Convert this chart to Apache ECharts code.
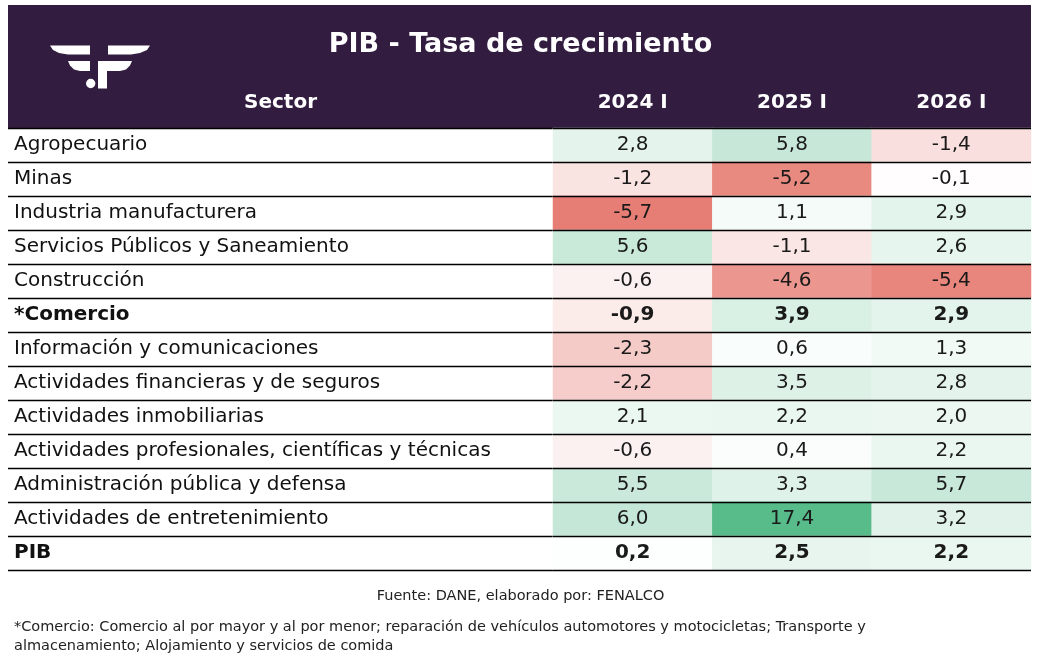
<!DOCTYPE html>
<html>
<head>
<meta charset="utf-8">
<script src="https://cdn.jsdelivr.net/npm/echarts@6/dist/echarts.min.js"></script>
<style>
html, body { margin: 0; padding: 0; background: #fff; }
#main { width: 1041px; height: 667px; }
</style>
</head>
<body>
<div id="main"></div>
<script>
var sectors = [
	'Agropecuario',
	'Minas',
	'Industria manufacturera',
	'Servicios Públicos y Saneamiento',
	'Construcción',
	'*Comercio',
	'Información y comunicaciones',
	'Actividades financieras y de seguros',
	'Actividades inmobiliarias',
	'Actividades profesionales, científicas y técnicas',
	'Administración pública y defensa',
	'Actividades de entretenimiento',
	'PIB'
];
var periods = ['2024 I', '2025 I', '2026 I'];
var v2024 = [2.8, -1.2, -5.7, 5.6, -0.6, -0.9, -2.3, -2.2, 2.1, -0.6, 5.5, 6.0, 0.2];
var v2025 = [5.8, -5.2, 1.1, -1.1, -4.6, 3.9, 0.6, 3.5, 2.2, 0.4, 3.3, 17.4, 2.5];
var v2026 = [-1.4, -0.1, 2.9, 2.6, -5.4, 2.9, 1.3, 2.8, 2.0, 2.2, 5.7, 3.2, 2.2];
var boldRows = ['*Comercio', 'PIB'];

var font = "'DejaVu Sans', sans-serif";
var myChart = echarts.init(document.getElementById('main'));

var cols = [v2024, v2025, v2026];
var cells = [];
for (var c = 0; c < cols.length; c++) {
	for (var r = 0; r < sectors.length; r++) {
		var bold = boldRows.indexOf(sectors[r]) >= 0;
		cells.push({
			value: [c, r, cols[c][r]],
			label: { fontWeight: bold ? 'bold' : 'normal' }
		});
	}
}

var splitStyle = { show: true, interval: 0, lineStyle: { color: '#000', width: 1.3 } };

var option = {
	backgroundColor: '#fff',
	textStyle: { fontFamily: font },
	title: [
		{
			text: 'PIB - Tasa de crecimiento',
			left: 'center',
			top: 26,
			textStyle: { color: '#fff', fontSize: 27, fontWeight: 'bold', fontFamily: font }
		},
		{
			text: 'Fuente: DANE, elaborado por: FENALCO',
			left: 'center',
			top: 584,
			textStyle: { color: '#222', fontSize: 14.5, fontWeight: 'normal', fontFamily: font }
		},
		{
			text: '*Comercio: Comercio al por mayor y al por menor; reparación de vehículos automotores y motocicletas; Transporte y\nalmacenamiento; Alojamiento y servicios de comida',
			left: 9,
			top: 613,
			textStyle: { color: '#222', fontSize: 14.5, fontWeight: 'normal', lineHeight: 19, fontFamily: font }
		}
	],
	graphic: [
		{ type: 'rect', z: -10, shape: { x: 8, y: 5, width: 1023, height: 123 }, style: { fill: '#321d40' } },
		{ type: 'polygon', z: 1, shape: { points: [[50, 45.5], [90, 45.5], [90, 54.5], [68, 54.5], [59, 53], [53, 50]] }, style: { fill: '#fff' } },
		{ type: 'polygon', z: 1, shape: { points: [[150, 45.5], [108, 45.5], [108, 54.5], [131, 54.5], [140, 53], [147, 50]] }, style: { fill: '#fff' } },
		{ type: 'polygon', z: 1, shape: { points: [[68, 61], [90, 61], [90, 71], [80, 71], [74, 69.5], [70, 65.5]] }, style: { fill: '#fff' } },
		{ type: 'polygon', z: 1, shape: { points: [[98, 61], [132, 61], [130, 65.5], [126, 69.5], [120, 71], [107, 71], [107, 88.5], [98, 88.5]] }, style: { fill: '#fff' } },
		{ type: 'circle', z: 1, shape: { cx: 90.7, cy: 83.5, r: 4.7 }, style: { fill: '#fff' } }
	],
	grid: [
		{ left: 8, top: 128, width: 545, height: 442 },
		{ left: 553, top: 128, width: 478, height: 442 }
	],
	xAxis: [
		{
			type: 'category',
			gridIndex: 0,
			data: ['Sector'],
			position: 'top',
			axisLine: { show: false },
			axisTick: { show: false },
			axisLabel: { color: '#fff', fontSize: 20, fontWeight: 'bold', margin: 15, fontFamily: font }
		},
		{
			type: 'category',
			gridIndex: 1,
			data: periods,
			position: 'top',
			axisLine: { show: false },
			axisTick: { show: false },
			axisLabel: { color: '#fff', fontSize: 20, fontWeight: 'bold', margin: 15, fontFamily: font }
		}
	],
	yAxis: [
		{
			type: 'category',
			gridIndex: 0,
			data: sectors,
			inverse: true,
			axisLine: { show: false },
			axisTick: { show: false },
			splitLine: splitStyle,
			axisLabel: {
				inside: true,
				margin: 6,
				fontSize: 20,
				color: '#111',
				fontFamily: font,
				formatter: function (v) {
					return boldRows.indexOf(v) >= 0 ? '{b|' + v + '}' : v;
				},
				rich: { b: { fontWeight: 'bold', fontSize: 20, color: '#111', fontFamily: font } }
			}
		},
		{
			type: 'category',
			gridIndex: 1,
			data: sectors,
			inverse: true,
			z: 10,
			axisLine: { show: false },
			axisTick: { show: false },
			axisLabel: { show: false },
			splitLine: splitStyle
		}
	],
	visualMap: {
		show: false,
		seriesIndex: 0,
		dimension: 2,
		min: -5.8,
		max: 17.4,
		inRange: { color: ['#e67c73', '#ffffff', '#c7e8d8', '#8fd2b1', '#57bb8a'] }
	},
	series: [
		{
			type: 'heatmap',
			xAxisIndex: 1,
			yAxisIndex: 1,
			data: cells,
			label: {
				show: true,
				fontSize: 20,
				color: '#1a1a1a',
				fontFamily: font,
				formatter: function (p) {
					return p.value[2].toFixed(1).replace('.', ',');
				}
			}
		}
	]
};
myChart.setOption(option, true);
</script>
</body>
</html>
